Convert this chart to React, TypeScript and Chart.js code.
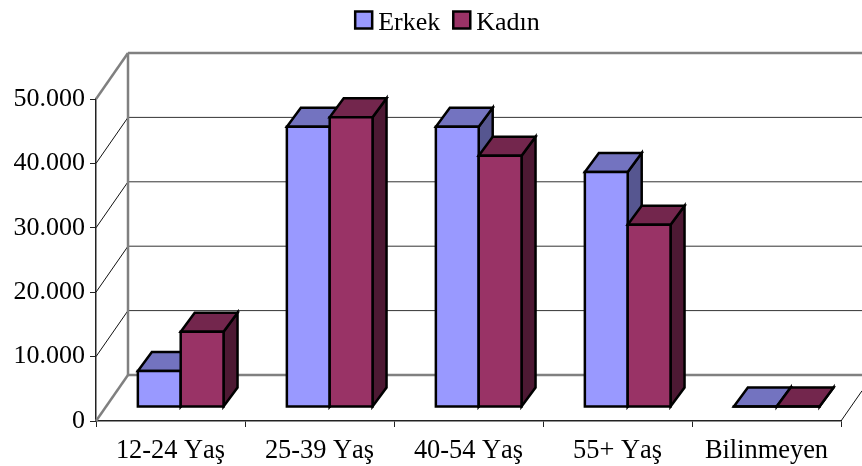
import React, { useEffect, useRef } from "react";
import { Chart, registerables } from "chart.js";

Chart.register(...registerables);

const categories = ["12-24 Yaş", "25-39 Yaş", "40-54 Yaş", "55+ Yaş", "Bilinmeyen"];
const erkek = [5600, 43500, 43500, 36500, 60];
const kadin = [11700, 45000, 39000, 28300, 60];
const yTicks = [0, 10000, 20000, 30000, 40000, 50000];
const yLabels = ["0", "10.000", "20.000", "30.000", "40.000", "50.000"];
const seriesNames = ["Erkek", "Kadın"];

const colors = [
  { front: "#9999FF", top: "#7373C0", side: "#565690" },
  { front: "#993366", top: "#73264D", side: "#4D1933" },
];

const FONT = "'Liberation Serif', 'Times New Roman', serif";
const WALL_DX = 32;
const WALL_DY = -46;
const BAR_SHIFT_X = 10.2;
const BAR_SHIFT_Y = -14;
const BAR_DX = 14;
const BAR_DY = -19;

function line(ctx: CanvasRenderingContext2D, x1: number, y1: number, x2: number, y2: number, color: string, w: number) {
  ctx.strokeStyle = color;
  ctx.lineWidth = w;
  ctx.beginPath();
  ctx.moveTo(x1, y1);
  ctx.lineTo(x2, y2);
  ctx.stroke();
}

function poly(ctx: CanvasRenderingContext2D, pts: number[][], fill: string | null) {
  ctx.strokeStyle = "#000";
  ctx.lineWidth = 2.5;
  ctx.lineJoin = "miter";
  ctx.beginPath();
  pts.forEach((p, i) => (i ? ctx.lineTo(p[0], p[1]) : ctx.moveTo(p[0], p[1])));
  ctx.closePath();
  if (fill) {
    ctx.fillStyle = fill;
    ctx.fill();
  }
  ctx.stroke();
}

const threeD = {
  id: "threeD",
  beforeLayout(chart: any) {
    const lg = chart.legend;
    if (lg && !lg.__wrapped) {
      const fit = lg.fit;
      lg.fit = function () {
        fit.call(this);
        this.height = 99;
      };
      lg.__wrapped = true;
    }
  },
  afterLayout(chart: any) {
    const lg = chart.legend;
    if (!lg) return;
    const shift = 26.5;
    lg.left += shift;
    lg.right += shift;
    lg.top -= 2;
    lg.bottom -= 2;
    lg.adjustHitBoxes();
  },
  beforeDraw(chart: any) {
    (chart.ctx as any).fontKerning = "none";
  },
  beforeDatasetsDraw(chart: any) {
    const ctx: CanvasRenderingContext2D = chart.ctx;
    const { left, right, bottom } = chart.chartArea;
    const y = chart.scales.y;
    const W = chart.width;
    const backL = left + WALL_DX;
    ctx.save();
    // inner gridlines on the side and back walls
    yTicks.slice(1, -1).forEach((v) => {
      const py = y.getPixelForValue(v);
      line(ctx, left, py, backL, py + WALL_DY, "#111", 1);
      line(ctx, backL, py + WALL_DY, W, py + WALL_DY, "#333", 1);
    });
    const top = y.getPixelForValue(yTicks[yTicks.length - 1]);
    const base = y.getPixelForValue(0);
    const gray = "#808080";
    line(ctx, left, top, backL, top + WALL_DY, gray, 2.5);
    line(ctx, backL, top + WALL_DY, W, top + WALL_DY, gray, 2.5);
    line(ctx, backL, top + WALL_DY, backL, base + WALL_DY, gray, 2.5);
    line(ctx, left, base, backL, base + WALL_DY, gray, 2.5);
    line(ctx, backL, base + WALL_DY, W, base + WALL_DY, gray, 2.5);
    const frac = (W - right) / WALL_DX;
    line(ctx, right, bottom, W, bottom + WALL_DY * frac, "#111", 1);

    // bars, left series first so the right one overlaps it
    [0, 1].forEach((di) => {
      const meta = chart.getDatasetMeta(di);
      ctx.save();
      ctx.translate(BAR_SHIFT_X, BAR_SHIFT_Y);
      meta.data.forEach((el: any) => {
        const l = el.x - el.width / 2;
        const r = el.x + el.width / 2;
        poly(ctx, [[r, el.y], [r + BAR_DX, el.y + BAR_DY], [r + BAR_DX, el.base + BAR_DY], [r, el.base]], colors[di].side);
        poly(ctx, [[l, el.y], [r, el.y], [r + BAR_DX, el.y + BAR_DY], [l + BAR_DX, el.y + BAR_DY]], colors[di].top);
      });
      meta.controller.draw();
      meta.data.forEach((el: any) => {
        const l = el.x - el.width / 2;
        const r = el.x + el.width / 2;
        poly(ctx, [[l, el.y], [r, el.y], [r, el.base], [l, el.base]], null);
      });
      ctx.restore();
    });
    ctx.restore();
    return false;
  },
  afterDraw(chart: any) {
    const ctx: CanvasRenderingContext2D = chart.ctx;
    const boxes = chart.legend?.legendHitBoxes || [];
    ctx.save();
    boxes.forEach((b: any, i: number) => {
      ctx.fillStyle = colors[i].front;
      ctx.strokeStyle = "#000";
      ctx.lineWidth = 2.5;
      const cy = b.top;
      ctx.beginPath();
      ctx.rect(b.left + 1, cy - 8.5, 17, 17);
      ctx.fill();
      ctx.stroke();
    });
    ctx.restore();
  },
};

export default function App() {
  const ref = useRef<HTMLCanvasElement>(null);
  useEffect(() => {
    const chart = new Chart(ref.current as HTMLCanvasElement, {
      type: "bar",
      data: {
        labels: categories,
        datasets: [
          { label: seriesNames[0], data: erkek, backgroundColor: colors[0].front, borderWidth: 0, inflateAmount: 0 },
          { label: seriesNames[1], data: kadin, backgroundColor: colors[1].front, borderWidth: 0, inflateAmount: 0 },
        ],
      },
      options: {
        animation: false,
        responsive: false,
        layout: { padding: { left: 0, right: 21, top: 0, bottom: 0 } },
        datasets: { bar: { categoryPercentage: 0.575, barPercentage: 1 } },
        plugins: {
          tooltip: { enabled: false },
          legend: {
            display: true,
            position: "top",
            labels: {
              boxWidth: 11,
              boxHeight: 11,
              padding: 12,
              color: "#000",
              font: { family: FONT, size: 26 },
              generateLabels: () =>
                seriesNames.map((n, i) => ({
                  text: n,
                  fillStyle: "transparent",
                  strokeStyle: "transparent",
                  lineWidth: 0,
                  datasetIndex: i,
                  fontColor: "#000",
                })),
            },
          },
        },
        scales: {
          x: {
            afterFit: (s: any) => {
              s.height = 45;
            },
            grid: { drawOnChartArea: false, drawTicks: true, tickLength: 6, color: "#222", lineWidth: 1 },
            border: { display: true, color: "#222", width: 1.5 },
            ticks: { color: "#000", padding: 8, maxRotation: 0, autoSkip: false, font: { family: FONT, size: 26.4 } },
          },
          y: {
            min: 0,
            max: 50000,
            afterFit: (s: any) => {
              s.width = 96;
            },
            afterBuildTicks: (s: any) => {
              s.ticks = yTicks.map((value) => ({ value }));
            },
            grid: { drawOnChartArea: false, drawTicks: true, tickLength: 6, color: "#222", lineWidth: 1 },
            border: { display: true, color: "#222", width: 1.5 },
            ticks: {
              color: "#000",
              padding: 5,
              font: { family: FONT, size: 26 },
              callback: (v: any) => yLabels[yTicks.indexOf(Number(v))],
            },
          },
        },
      } as any,
      plugins: [threeD as any],
    });
    return () => chart.destroy();
  }, []);
  return (
    <canvas
      ref={ref}
      width={862}
      height={466}
      style={{ position: "absolute", left: 0, top: 0, display: "block", width: 862, height: 466 }}
    />
  );
}
